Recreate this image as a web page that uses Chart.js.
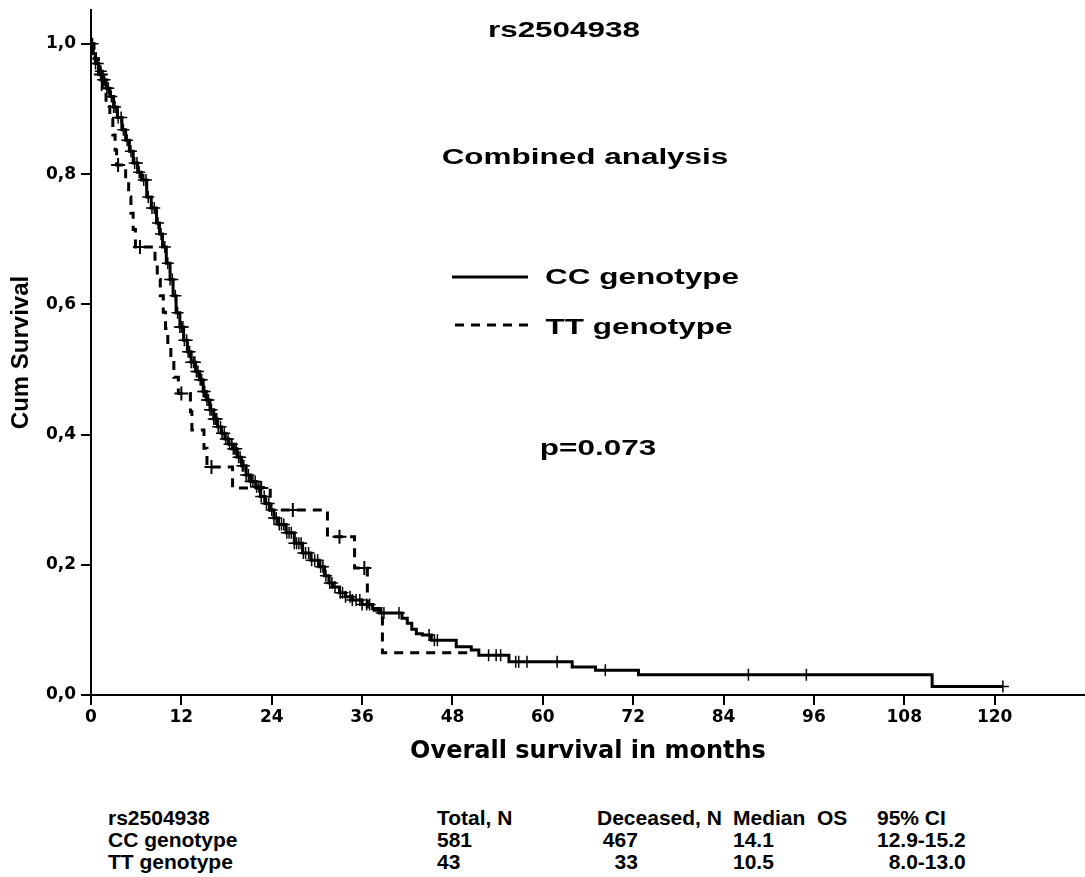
<!DOCTYPE html>
<html>
<head>
<meta charset="utf-8">
<script src="https://cdn.jsdelivr.net/npm/chart.js@4.4.0/dist/chart.umd.min.js"></script>
<style>
    body { margin: 0; background: #fff; }
    .wrap { position: relative; width: 1085px; height: 877px; }
    .plot { position: absolute; left: 0; top: 0; width: 1085px; height: 770px; }
    .note {
        position: absolute;
        font: bold 22px 'Liberation Sans', Arial, sans-serif;
        color: #000;
        white-space: nowrap;
        transform: translate(-50%, -50%) scaleX(1.43);
    }
    .key { position: absolute; }
    .tbl {
        position: absolute;
        font: bold 21px 'Liberation Sans Narrow', 'Liberation Sans', Arial, sans-serif;
        color: #000;
        white-space: pre;
        line-height: 22px;
    }
</style>
</head>
<body>
<div class="wrap">
    <div class="plot"><canvas id="km"></canvas></div>

    <div class="note" style="left:564px; top:30px;">rs2504938</div>
    <div class="note" style="left:585px; top:157px;">Combined analysis</div>
    <svg class="key" style="left:450px; top:265px;" width="82" height="70">
        <line x1="2" y1="12" x2="78" y2="12" stroke="#000" stroke-width="3"/>
        <line x1="5" y1="60" x2="80" y2="60" stroke="#000" stroke-width="3" stroke-dasharray="9 7"/>
    </svg>
    <div class="note" style="left:642px; top:277px;">CC genotype</div>
    <div class="note" style="left:639px; top:327px;">TT genotype</div>
    <div class="note" style="left:598px; top:448px;">p=0.073</div>

    <div id="table"></div>
</div>

<script>
// Kaplan-Meier steps (months, cumulative survival)
const ccTime = [0, 0.3, 0.6, 1.0, 1.5, 2.0, 2.5, 3.0, 3.5, 4.1, 4.6, 5.1, 5.6, 6.2, 6.7, 7.4, 8.0, 8.7, 9.1, 9.5,
    10.0, 10.5, 10.9, 11.3, 11.8, 12.3, 12.8, 13.3, 13.9, 14.4, 14.9, 15.3, 15.8, 16.3, 16.8, 17.3, 17.8, 18.3, 18.8, 19.4,
    20.0, 20.6, 21.2, 21.9, 22.5, 23.1, 23.7, 24.3, 24.9, 25.9, 27.0, 28.1, 29.2, 30.3, 31.0, 31.6, 32.1, 33.0, 33.8, 34.7,
    36.0, 37.4, 38.3, 41.3, 42.0, 42.6, 43.2, 44.0, 45.2, 48.5, 50.5, 51.5, 55.5, 63.9, 67.0, 72.7, 111.7, 121.1];
const ccSurv = [1.0, 0.985, 0.97, 0.958, 0.945, 0.932, 0.919, 0.903, 0.887, 0.868, 0.852, 0.835, 0.817, 0.803, 0.791, 0.765, 0.748, 0.725, 0.708, 0.688,
    0.663, 0.638, 0.613, 0.587, 0.565, 0.545, 0.527, 0.511, 0.497, 0.484, 0.466, 0.453, 0.438, 0.424, 0.412, 0.402, 0.393, 0.385, 0.378, 0.365,
    0.352, 0.338, 0.328, 0.32, 0.305, 0.294, 0.284, 0.272, 0.262, 0.249, 0.233, 0.218, 0.207, 0.197, 0.183, 0.172, 0.166, 0.157, 0.151, 0.146,
    0.139, 0.133, 0.126, 0.118, 0.110, 0.101, 0.094, 0.092, 0.084, 0.074, 0.069, 0.061, 0.051, 0.043, 0.038, 0.031, 0.013, 0.013];
const ccCensor = [0.2, 0.6, 0.9, 1.3, 1.6, 1.8, 2.1, 2.3, 2.7, 3.0, 3.2, 3.6, 4.0, 4.3, 4.8, 5.3, 5.8, 6.1, 6.4, 7.0,
    7.3, 7.6, 8.1, 8.4, 8.9, 9.3, 9.8, 10.2, 10.5, 10.8, 11.2, 11.5, 11.8, 12.0, 12.2, 12.4, 12.7, 12.9, 13.1, 13.3,
    13.6, 13.8, 14.0, 14.2, 14.5, 14.7, 14.9, 15.1, 15.4, 15.6, 15.8, 16.0, 16.3, 16.5, 16.7, 16.9, 17.2, 17.4, 17.7, 17.9,
    18.2, 18.4, 18.7, 18.9, 19.1, 19.3, 19.6, 19.8, 20.1, 20.3, 20.6, 20.9, 21.2, 21.5, 21.8, 22.0, 22.3, 22.6, 23.0, 23.3,
    23.6, 24.0, 24.3, 24.6, 25.0, 25.3, 25.6, 26.0, 26.3, 26.6, 27.0, 27.3, 27.6, 27.9, 28.2, 28.5, 28.9, 29.3, 29.7, 30.1,
    30.5, 30.8, 31.2, 31.7, 32.0, 32.4, 33.1, 33.4, 33.8, 34.4, 34.7, 35.2, 35.7, 36.0, 36.6, 37.0, 38.6, 38.9, 40.9, 44.9,
    45.6, 46.0, 52.8, 53.8, 54.4, 56.4, 56.8, 57.9, 61.9, 68.3, 87.3, 95.0, 121.1];

const ttTime = [0, 0.4, 1.0, 1.5, 2.0, 2.5, 2.9, 3.2, 3.4, 4.6, 5.0, 5.3, 5.6, 5.9, 8.5, 8.8, 9.2, 9.6, 9.9, 10.2,
    10.6, 11.0, 11.6, 13.2, 13.4, 15.0, 15.4, 18.8, 23.8, 31.4, 35.0, 36.7, 38.7, 50.5];
const ttSurv = [1.0, 0.977, 0.953, 0.930, 0.907, 0.884, 0.860, 0.837, 0.814, 0.790, 0.765, 0.740, 0.715, 0.688, 0.663, 0.638, 0.613, 0.588, 0.563, 0.538,
    0.513, 0.488, 0.463, 0.435, 0.407, 0.379, 0.350, 0.318, 0.284, 0.243, 0.195, 0.130, 0.065, 0.065];
const ttCensor = [1.3, 3.6, 6.5, 12.0, 16.0, 22.6, 26.8, 33.0, 36.3];

const xTicks = [0, 12, 24, 36, 48, 60, 72, 84, 96, 108, 120];
const yTicks = [0, 0.2, 0.4, 0.6, 0.8, 1.0];

// summary table under the plot
const tableHead = ['rs2504938', 'Total, N', 'Deceased, N', 'Median  OS', '95% CI'];
const tableCC = ['CC genotype', '581', ' 467', '14.1', '12.9-15.2'];
const tableTT = ['TT genotype', '43', '   33', '10.5', '  8.0-13.0'];

// survival value of a step curve at time t
function survAt(times, surv, t) {
    let s = surv[0];
    for (let i = 0; i < times.length; i++) {
        if (times[i] <= t) s = surv[i];
    }
    return s;
}

const toPoints = (times, surv) => times.map((t, i) => ({ x: t, y: surv[i] }));
const toMarks = (censor, times, surv) => censor.map(t => ({ x: t, y: survAt(times, surv, t) }));

const tickFont = { family: "'DejaVu Sans', sans-serif", size: 17, weight: 'bold' };

new Chart(document.getElementById('km'), {
    type: 'line',
    data: {
        datasets: [
            {
                label: 'CC genotype',
                data: toPoints(ccTime, ccSurv),
                stepped: true,
                borderColor: '#000',
                borderWidth: 3,
                pointRadius: 0,
                fill: false
            },
            {
                label: 'TT genotype',
                data: toPoints(ttTime, ttSurv),
                stepped: true,
                borderColor: '#000',
                borderWidth: 3,
                borderDash: [9, 7],
                pointRadius: 0,
                fill: false
            },
            {
                label: 'CC censored',
                data: toMarks(ccCensor, ccTime, ccSurv),
                showLine: false,
                pointStyle: 'cross',
                pointRadius: 6,
                pointBorderWidth: 1.5,
                borderColor: '#000'
            },
            {
                label: 'TT censored',
                data: toMarks(ttCensor, ttTime, ttSurv),
                showLine: false,
                pointStyle: 'cross',
                pointRadius: 7,
                pointBorderWidth: 2,
                borderColor: '#000'
            }
        ]
    },
    options: {
        responsive: true,
        maintainAspectRatio: false,
        animation: false,
        layout: { autoPadding: false, padding: { top: 10, right: 0, left: 0, bottom: 0 } },
        plugins: {
            legend: { display: false },
            tooltip: { enabled: false }
        },
        scales: {
            x: {
                type: 'linear',
                min: 0,
                max: 132,
                afterBuildTicks: axis => { axis.ticks = xTicks.map(v => ({ value: v })); },
                afterFit: scale => {
                    scale.height = 75;
                    scale.paddingLeft = 0;
                    scale.paddingRight = 0;
                },
                border: { color: '#000', width: 2 },
                grid: { drawOnChartArea: false, color: '#000', lineWidth: 2, tickLength: 10 },
                ticks: { color: '#000', font: tickFont, padding: 2, maxRotation: 0 },
                title: {
                    display: true,
                    text: 'Overall survival in months',
                    color: '#000',
                    font: { family: "'DejaVu Sans', sans-serif", size: 24, weight: 'bold' },
                    padding: { top: 0, bottom: 4 }
                }
            },
            y: {
                min: 0,
                max: 1.052,
                afterBuildTicks: axis => { axis.ticks = yTicks.map(v => ({ value: v })); },
                afterFit: scale => {
                    scale.width = 91;
                    scale.paddingTop = 0;
                    scale.paddingBottom = 0;
                },
                border: { color: '#000', width: 2 },
                grid: { drawOnChartArea: false, color: '#000', lineWidth: 2, tickLength: 10 },
                ticks: {
                    color: '#000',
                    font: tickFont,
                    padding: 5,
                    callback: v => v.toFixed(1).replace('.', ',')
                },
                title: {
                    display: true,
                    text: 'Cum Survival',
                    color: '#000',
                    font: { family: "'Liberation Sans', sans-serif", size: 24, weight: 'bold' },
                    padding: { top: 7, bottom: 0 }
                }
            }
        }
    }
});

// build the table as text blocks, one per column
const colLeft = [108, 437, 597, 733, 877];
const table = document.getElementById('table');
colLeft.forEach((left, i) => {
    const div = document.createElement('div');
    div.className = 'tbl';
    div.style.left = left + 'px';
    div.style.top = '807px';
    div.textContent = [tableHead[i], tableCC[i], tableTT[i]].join('\n');
    table.appendChild(div);
});
</script>
</body>
</html>
